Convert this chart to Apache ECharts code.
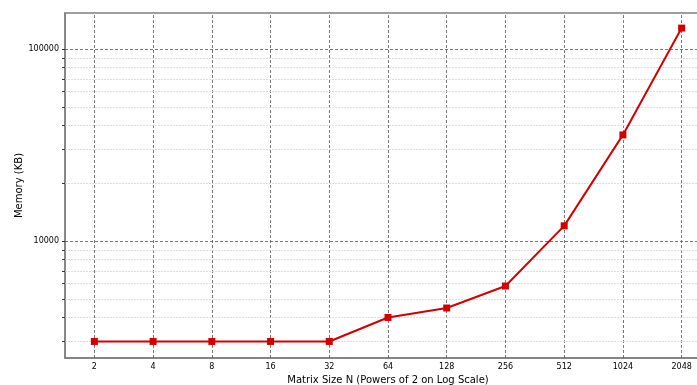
<!DOCTYPE html>
<html>
<head>
<meta charset="utf-8">
<script src="https://cdn.jsdelivr.net/npm/echarts@6/dist/echarts.min.js"></script>
<style>
  html, body { margin: 0; padding: 0; background: #fff; }
  #chart { width: 697px; height: 385px; }
</style>
</head>
<body>
<div id="chart"></div>
<script>
// Matrix sizes (powers of two) and measured memory use in KB
const sizes = ['2', '4', '8', '16', '32', '64', '128', '256', '512', '1024', '2048'];
const memoryKB = [3000, 3000, 3000, 3000, 3000, 4000, 4480, 5830, 12000, 35700, 128500];

// Y axis decades and the minor steps between them
const majorTicks = [10000, 100000];
const minorTicks = [3000, 4000, 5000, 6000, 7000, 8000, 9000,
                    20000, 30000, 40000, 50000, 60000, 70000, 80000, 90000];

const FONT = 'DejaVu Sans';

const gridLines = [];
sizes.forEach(s => gridLines.push({ xAxis: s, lineStyle: { color: '#555', width: 0.8, type: [3, 2] } }));
minorTicks.forEach(v => gridLines.push({ yAxis: v, lineStyle: { color: '#d6d6d6', width: 0.8, type: [2, 1] } }));
majorTicks.forEach(v => gridLines.push({ yAxis: v, lineStyle: { color: '#555', width: 0.8, type: [3, 2] } }));

const chart = echarts.init(document.getElementById('chart'));
chart.setOption({
  animation: false,
  grid: {
    left: 65, top: 13, right: -14, bottom: 27,
    outerBoundsMode: 'none',
    containLabel: false,
    show: true, borderColor: '#7f7f7f', borderWidth: 1.5, backgroundColor: 'transparent'
  },
  xAxis: {
    type: 'category',
    data: sizes,
    boundaryGap: true,
    name: 'Matrix Size N (Powers of 2 on Log Scale)',
    nameLocation: 'middle',
    nameGap: 15,
    nameTextStyle: { fontFamily: FONT, fontSize: 10, color: '#000' },
    axisLine: { lineStyle: { color: '#7f7f7f', width: 1.5 } },
    axisTick: { alignWithLabel: true, length: 3, lineStyle: { color: '#333' } },
    axisLabel: { fontFamily: FONT, fontSize: 8, color: '#000', margin: 5 },
    splitLine: { show: false }
  },
  yAxis: {
    type: 'log',
    logBase: 10,
    min: 2460,
    max: 154000,
    name: 'Memory (KB)',
    nameLocation: 'middle',
    nameGap: 41,
    nameMoveOverlap: false,
    nameTextStyle: { fontFamily: FONT, fontSize: 10, color: '#000' },
    axisLine: { show: true, lineStyle: { color: '#7f7f7f', width: 1.5 } },
    axisTick: { show: true, length: 3, customValues: minorTicks.concat(majorTicks), lineStyle: { color: '#333' } },
    axisLabel: {
      fontFamily: FONT, fontSize: 8, color: '#000', margin: 6,
      customValues: majorTicks,
      formatter: v => String(Math.round(v))
    },
    splitLine: { show: false },
    minorSplitLine: { show: false }
  },
  series: [{
    type: 'line',
    data: memoryKB,
    symbol: 'rect',
    symbolSize: 7,
    itemStyle: { color: '#d40000' },
    lineStyle: { color: '#d40000', width: 2 },
    z: 5,
    markLine: {
      silent: true,
      symbol: ['none', 'none'],
      label: { show: false },
      emphasis: { disabled: true },
      data: gridLines,
      z: 1
    }
  }]
});
</script>
</body>
</html>
